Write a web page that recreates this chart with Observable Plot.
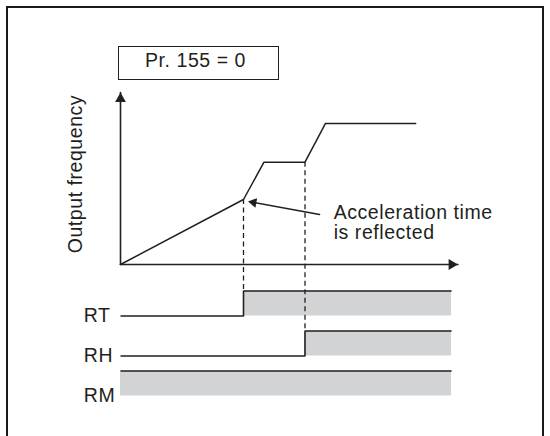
<!DOCTYPE html>
<html>
<head>
<meta charset="utf-8">
<script src="https://cdn.jsdelivr.net/npm/d3@7"></script>
<script src="https://cdn.jsdelivr.net/npm/@observablehq/plot@0.6"></script>
<style>
  html, body { margin: 0; padding: 0; background: #fff; width: 550px; height: 436px; overflow: hidden; position: relative;
    font-family: "Liberation Sans", Arial, sans-serif; }
  #frame { position: absolute; left: 6px; top: 6px; width: 538px; height: 440px; border: 2px solid #1a1a1a;
    border-bottom: none; box-sizing: border-box; }
  #title { position: absolute; left: 118px; top: 46px; width: 161px; height: 34px; border: 1.5px solid #231f20;
    box-sizing: border-box; display: flex; align-items: center; justify-content: center;
    padding-bottom: 5px; padding-right: 6px; font-size: 19.5px; letter-spacing: 0.55px; color: #231f20; }
  #chart { position: absolute; left: 0; top: 84px; }
  #chart svg text { letter-spacing: 0.55px; }
</style>
</head>
<body>
<div id="frame"></div>
<div id="title">Pr. 155 = 0</div>
<div id="chart"></div>
<script>
// ---------- data ----------
const freqTime  = [0, 6, 7, 9, 10, 14.4];
const freqValue = [0, 20, 31.5, 31.5, 43.4, 43.4];
const signalNames = ["RT", "RH", "RM"];
const rtTime = [0, 6, 6, 16.15];
const rtLevel = [0, 0, 1, 1];
const rhTime = [0, 9, 9, 16.15];
const rhLevel = [0, 0, 1, 1];
const rmTime = [0, 16.15];
const rmLevel = [1, 1];
const axisTimeEnd = 16.46;
const axisFreqEnd = 52.9;
const yLabel = "Output frequency";
const noteText = "Acceleration time\nis reflected";
const noteTip = [6.22, 19.4];
const noteTail = [9.71, 15.4];
const noteLabelAt = [10.4, 7.9];

// ---------- layout ----------
const W = 550, H = 352;
const kx = 20.5, ky = 3.25, ox = 120, oy = 180;   // px per unit, origin px
const laneBottom = d3.scalePoint(signalNames, [-15.85, -40.46]);
const laneH = 7.69;
const ink = "#231f20", grey = "#d1d3d4";
const FS = 19.5;

const freq = freqTime.map((t, i) => ({t, v: freqValue[i]}));
const sigTimes = [rtTime, rhTime, rmTime];
const sigLevels = [rtLevel, rhLevel, rmLevel];
const sig = signalNames.flatMap((name, k) =>
  sigTimes[k].map((t, i) => ({name, t, level: sigLevels[k][i]})));
const lo = d => laneBottom(d.name);
const hi = d => laneBottom(d.name) + d.level * laneH;

const edges = signalNames.map((name, k) => {
  const L = sigLevels[k];
  const i = L.findIndex((l, j) => j > 0 && l > L[j - 1]);
  if (i < 0) return null;
  const t = sigTimes[k][i];
  const f = freqTime.indexOf(t);
  return f < 0 ? null : {t, from: freqValue[f], to: laneBottom(name) + laneH};
}).filter(Boolean);

const xAxisLine = [{t: 0, v: 0}, {t: axisTimeEnd, v: 0}];
const yAxisLine = [{t: 0, v: 0}, {t: 0, v: axisFreqEnd}];

// arrowhead geometry (d3 triangle: tip at 2/3 height from centre)
const tipOff = r => 2 * Math.sqrt(Math.PI * r * r / (3 * Math.sqrt(3)));
const RA = 4, offA = tipOff(RA);
const RN = 3.6, offN = tipOff(RN);
const pdx = (noteTip[0] - noteTail[0]) * kx, pdy = -(noteTip[1] - noteTail[1]) * ky;
const plen = Math.hypot(pdx, pdy), ux = pdx / plen, uy = pdy / plen;
const noteAngle = Math.atan2(pdx, -pdy) * 180 / Math.PI;
const noteLineEnd = [noteTip[0] - ux * offN / kx, noteTip[1] + uy * offN / ky];

const chart = Plot.plot({
  width: W, height: H, margin: 0,
  x: {domain: [-ox / kx, (W - ox) / kx], axis: null},
  y: {domain: [-(H - oy) / ky, oy / ky], axis: null},
  style: {fontFamily: '"Liberation Sans", Arial, sans-serif', fontSize: FS + "px", background: "transparent", overflow: "visible"},
  marks: [
    Plot.areaY(sig, {x: "t", y1: lo, y2: hi, z: "name", fill: grey, curve: "linear"}),
    Plot.ruleX(edges, {x: "t", y1: "from", y2: "to", stroke: ink, strokeWidth: 1.3, strokeDasharray: "5,3.5"}),
    Plot.line(sig, {x: "t", y: hi, z: "name", stroke: ink, strokeWidth: 1.6, strokeLinejoin: "miter", strokeLinecap: "butt"}),
    Plot.line(xAxisLine, {x: "t", y: "v", stroke: ink, strokeWidth: 1.6}),
    Plot.line(yAxisLine, {x: "t", y: "v", stroke: ink, strokeWidth: 1.6}),
    Plot.dot([yAxisLine[1]], {x: "t", y: "v", symbol: "triangle", r: RA, fill: ink, dy: offA}),
    Plot.dot([xAxisLine[1]], {x: "t", y: "v", symbol: "triangle", r: RA, fill: ink, rotate: 90, dx: -offA}),
    Plot.line(freq, {x: "t", y: "v", stroke: ink, strokeWidth: 1.5, strokeLinejoin: "miter"}),
    Plot.line([noteTail, noteLineEnd], {x: d => d[0], y: d => d[1], stroke: ink, strokeWidth: 1.5}),
    Plot.dot([noteTip], {x: d => d[0], y: d => d[1], symbol: "triangle", r: RN, fill: ink,
      rotate: noteAngle, dx: -ux * offN, dy: -uy * offN}),
    Plot.text([noteText], {x: () => noteLabelAt[0], y: () => noteLabelAt[1], text: d => d,
      textAnchor: "start", lineAnchor: "bottom", lineHeight: 20 / FS, fontSize: FS, fill: ink}),
    Plot.text(signalNames, {x: () => 0, y: d => laneBottom(d), text: d => d, dx: -36.7,
      textAnchor: "start", lineAnchor: "middle", fontSize: FS, fill: ink}),
    Plot.text([yLabel], {x: () => 0, y: () => axisFreqEnd / 2, text: d => d, dx: -45, dy: -4.5,
      rotate: -90, textAnchor: "middle", lineAnchor: "middle", fontSize: FS, fill: ink})
  ]
});
document.getElementById("chart").appendChild(chart);
</script>
</body>
</html>
